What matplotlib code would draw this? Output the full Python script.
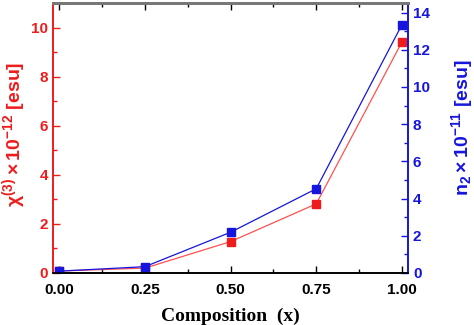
import numpy as np
import matplotlib
matplotlib.use("Agg")
import matplotlib.pyplot as plt
from matplotlib.ticker import MultipleLocator

composition = [0.0, 0.25, 0.5, 0.75, 1.0]
chi3 = [0.08, 0.2, 1.28, 2.82, 9.42]      # x10^-12 esu
n2 = [0.1, 0.34, 2.19, 4.53, 13.35]       # x10^-11 esu

red = "#ee1c1c"
blue = "#1515dd"

plt.rcParams['font.family'] = ['Liberation Sans', 'DejaVu Sans']
plt.rcParams['mathtext.fontset'] = 'custom'
plt.rcParams['mathtext.rm'] = 'Liberation Sans:bold'
plt.rcParams['mathtext.bf'] = 'Liberation Sans:bold'
plt.rcParams['mathtext.it'] = 'Liberation Sans:bold'
plt.rcParams['mathtext.default'] = 'bf'

fig = plt.figure(figsize=(4.74, 3.25), dpi=100)
ax = fig.add_axes([0.112, 0.16, 0.749, 0.83])
ax2 = ax.twinx()

ax.plot(composition, chi3, color="#ff5050", lw=0.9, marker='s', ms=5.5,
        mfc=red, mec=red)
ax2.plot(composition, n2, color=blue, lw=0.9, marker='s', ms=5.5,
         mfc=blue, mec=blue)

ax.set_xlim(-0.018, 1.018)
ax.set_ylim(0, 11)
ax2.set_ylim(0, 14.5)

ax.xaxis.set_major_locator(MultipleLocator(0.25))
ax.xaxis.set_minor_locator(MultipleLocator(0.125))
ax.yaxis.set_major_locator(MultipleLocator(2))
ax.yaxis.set_minor_locator(MultipleLocator(1))
ax2.yaxis.set_major_locator(MultipleLocator(2))
ax2.yaxis.set_minor_locator(MultipleLocator(1))
ax.xaxis.set_major_formatter(plt.FormatStrFormatter('%.2f'))

ax.tick_params(axis='x', which='both', direction='in', top=True, colors='black',
               labelsize=11, pad=7)
ax.tick_params(axis='x', which='major', length=5, width=1)
ax.tick_params(axis='x', which='minor', length=3, width=1)
ax.tick_params(axis='y', which='both', direction='in', colors=red, labelsize=11)
ax.tick_params(axis='y', which='major', length=5, width=1)
ax.tick_params(axis='y', which='minor', length=3, width=1)
ax2.tick_params(axis='y', which='both', direction='in', colors=blue, labelsize=11)
ax2.tick_params(axis='y', which='major', length=5, width=1)
ax2.tick_params(axis='y', which='minor', length=3, width=1)

for lab in ax.get_xticklabels() + ax.get_yticklabels() + ax2.get_yticklabels():
    lab.set_fontweight('bold')

ax.spines['left'].set_color(red)
ax2.spines['left'].set_color(red)
ax2.spines['right'].set_color(blue)
ax.spines['right'].set_color(blue)
ax.spines['top'].set_color('#777777')
ax2.spines['top'].set_color('#777777')
ax.spines['top'].set_linewidth(2)
ax2.spines['top'].set_linewidth(2)
for s in ['left', 'right', 'bottom']:
    ax.spines[s].set_linewidth(1.2)
    ax2.spines[s].set_linewidth(1.2)

ax.set_ylabel(r"$\chi^{(3)}\times10^{-12}$ [esu]", color=red,
              fontsize=14, fontweight='bold')
ax.yaxis.set_label_coords(-0.072, 0.515)
ax2.set_ylabel(r"n$_{2}\times10^{-11}$ [esu]", color=blue,
               fontsize=14, fontweight='bold')
ax2.yaxis.set_label_coords(1.115, 0.54)
ax.set_xlabel("Composition  (x)", family=['Liberation Serif', 'DejaVu Serif'],
              fontsize=14, fontweight='bold', labelpad=8)

fig.savefig("out.png", dpi=100)
